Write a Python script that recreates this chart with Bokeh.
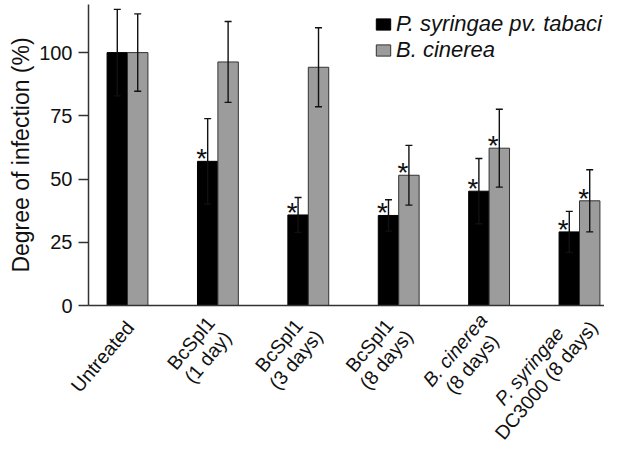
import math
from bokeh.plotting import figure
from bokeh.models import (ColumnDataSource, Range1d, FixedTicker, Whisker, TeeHead,
                          Legend, LegendItem, Label)
from bokeh.core.properties import value
from bokeh.embed import file_html
from bokeh.resources import INLINE

# ---------------- data ----------------
category_lines = [
    ["Untreated"],
    ["BcSpl1", "(1 day)"],
    ["BcSpl1", "(3 days)"],
    ["BcSpl1", "(8 days)"],
    ["B. cinerea", "(8 days)"],
    ["P. syringae", "DC3000 (8 days)"],
]
category_italic = [
    [False],
    [False, False],
    [False, False],
    [False, False],
    [True, False],
    [True, False],
]
series_names = ["P. syringae pv. tabaci", "B. cinerea"]
pst_mean = [100, 57.0, 35.8, 35.6, 45.2, 29.1]
pst_err = [17.1, 16.9, 6.9, 6.2, 12.9, 8.1]
pst_sig = [False, True, True, True, True, True]
bc_mean = [100, 96.3, 94.2, 51.5, 62.2, 41.4]
bc_err = [15.3, 16.0, 15.6, 11.8, 15.4, 12.3]
bc_sig = [False, False, False, True, True, True]
y_ticks = [0, 25, 50, 75, 100]
y_max = 119

# ---------------- style / layout ----------------
FONT = "Liberation Sans"
BAR_W = 0.226
DODGE = 0.113
BLACK = "#000000"
GRAY = "#9c9c9c"
EDGE = "#333333"
TXT = "#111111"

FIG_W, FIG_H = 604, 446
CAT0_PX, PX_PER_CAT = 127, 90.4     # first category centre / category spacing (px)
Y0_PX, PX_PER_Y = 305, 2.529        # y=0 position / px per percent
AXIS_LEFT_PX = 88                   # where the y axis sits
XS = -CAT0_PX / PX_PER_CAT
XE = (FIG_W - CAT0_PX) / PX_PER_CAT
YB = -(FIG_H - Y0_PX) / PX_PER_Y
YT = Y0_PX / PX_PER_Y
X_AXIS_START = (AXIS_LEFT_PX - CAT0_PX) / PX_PER_CAT

idx = list(range(len(category_lines)))
src_p = ColumnDataSource(dict(
    x=[i - DODGE for i in idx], top=pst_mean,
    upper=[m + e for m, e in zip(pst_mean, pst_err)],
    lower=[m - e for m, e in zip(pst_mean, pst_err)]))
src_b = ColumnDataSource(dict(
    x=[i + DODGE for i in idx], top=bc_mean,
    upper=[m + e for m, e in zip(bc_mean, bc_err)],
    lower=[m - e for m, e in zip(bc_mean, bc_err)]))

p = figure(width=FIG_W, height=FIG_H,
           x_range=Range1d(XS, XE), y_range=Range1d(YB, YT),
           output_backend="svg", toolbar_location=None, min_border=0)
p.outline_line_color = None
p.xgrid.visible = False
p.ygrid.visible = False

r1 = p.vbar(x="x", top="top", width=BAR_W, source=src_p,
            fill_color=BLACK, line_color=BLACK, line_width=1)
r2 = p.vbar(x="x", top="top", width=BAR_W, source=src_b,
            fill_color=GRAY, line_color=EDGE, line_width=1)

for src in (src_p, src_b):
    w = Whisker(source=src, base="x", upper="upper", lower="lower",
                line_color=TXT, line_width=1.4, level="overlay",
                upper_head=TeeHead(size=7, line_color=TXT, line_width=1.4),
                lower_head=TeeHead(size=7, line_color=TXT, line_width=1.4))
    p.add_layout(w)

# significance asterisks
ax, ay = [], []
for i in idx:
    if pst_sig[i]:
        ax.append(i - DODGE); ay.append(pst_mean[i])
    if bc_sig[i]:
        ax.append(i + DODGE); ay.append(bc_mean[i])
p.text(x=ax, y=ay, text=["*"] * len(ax), text_font=value(FONT),
       text_font_size="28px", text_align="center", text_baseline="alphabetic",
       x_offset=-6, y_offset=-2.5, text_color=TXT)

# axes (placed at fixed data locations so the plot area spans the canvas)
p.yaxis.fixed_location = X_AXIS_START
p.yaxis.bounds = (0, y_max)
p.yaxis.ticker = FixedTicker(ticks=y_ticks)
p.yaxis.minor_tick_line_color = None
p.yaxis.major_tick_in = 0
p.yaxis.major_tick_out = 10
p.yaxis.major_label_standoff = 6
p.yaxis.major_label_text_font = FONT
p.yaxis.major_label_text_font_size = "20px"
p.yaxis.major_label_text_color = TXT
p.yaxis.axis_label = "Degree of infection (%)"
p.yaxis.axis_label_text_font = FONT
p.yaxis.axis_label_text_font_size = "23px"
p.yaxis.axis_label_text_font_style = "normal"
p.yaxis.axis_label_text_color = TXT
p.yaxis.axis_label_standoff = 2
p.xaxis.fixed_location = 0
p.xaxis.bounds = (X_AXIS_START, XE)
for a in (p.xaxis, p.yaxis):
    a.axis_line_color = "#333333"
    a.axis_line_width = 1.5
    a.major_tick_line_color = "#333333"
    a.major_tick_line_width = 1.5
p.xaxis.ticker = FixedTicker(ticks=[])
p.xaxis.major_label_text_font_size = "0px"
p.xaxis.major_tick_line_color = None
p.xaxis.minor_tick_line_color = None
p.xaxis.major_tick_out = 0
p.xaxis.major_tick_in = 0
p.xaxis.major_label_standoff = 0

legend = Legend(items=[LegendItem(label=series_names[0], renderers=[r1]),
                       LegendItem(label=series_names[1], renderers=[r2])],
                location=(374, 383), glyph_width=18, glyph_height=14,
                label_standoff=4, padding=0, spacing=0, margin=0,
                label_height=25,
                border_line_color=None, background_fill_alpha=0,
                label_text_font=FONT, label_text_font_size="22px",
                label_text_font_style="italic", label_text_color=TXT)
p.add_layout(legend)

# ---------------- rotated category labels ----------------
ARIAL_W = {' ': 278, '(': 333, ')': 333, '.': 278, '0': 556, '1': 556, '3': 556,
           '8': 556, 'B': 667, 'C': 722, 'D': 722, 'P': 667, 'S': 667, 'U': 722,
           'a': 556, 'c': 500, 'd': 556, 'e': 556, 'g': 556, 'i': 222, 'l': 222,
           'n': 556, 'p': 556, 'r': 333, 's': 500, 't': 278, 'y': 500}
XL_SIZE = 19.5
LINE_H = 22
ANGLE = 50
B0 = (-2.0, 28.0)                  # block centre offset (px right, px down)
K_EM = (-5.29, 5.22)               # block centre shift per em of longest line
ca, sa = math.cos(math.radians(ANGLE)), math.sin(math.radians(ANGLE))
for i, lines in enumerate(category_lines):
    w_em = max(sum(ARIAL_W.get(ch, 556) for ch in ln) for ln in lines) / 1000
    bx = B0[0] + K_EM[0] * w_em
    by = B0[1] + K_EM[1] * w_em
    m = len(lines)
    for k, ln in enumerate(lines):
        s = (k - (m - 1) / 2) * LINE_H
        cx = bx + s * sa
        cy = by + s * ca
        p.add_layout(Label(x=i, y=-cy / PX_PER_Y, x_units="data", y_units="data",
                           x_offset=cx, text=ln,
                           angle=ANGLE, angle_units="deg",
                           text_align="center", text_baseline="middle",
                           text_font=FONT, text_font_size=f"{XL_SIZE}px",
                           text_font_style="italic" if category_italic[i][k] else "normal",
                           text_color=TXT))

open("out.html", "w").write(file_html(p, INLINE))
